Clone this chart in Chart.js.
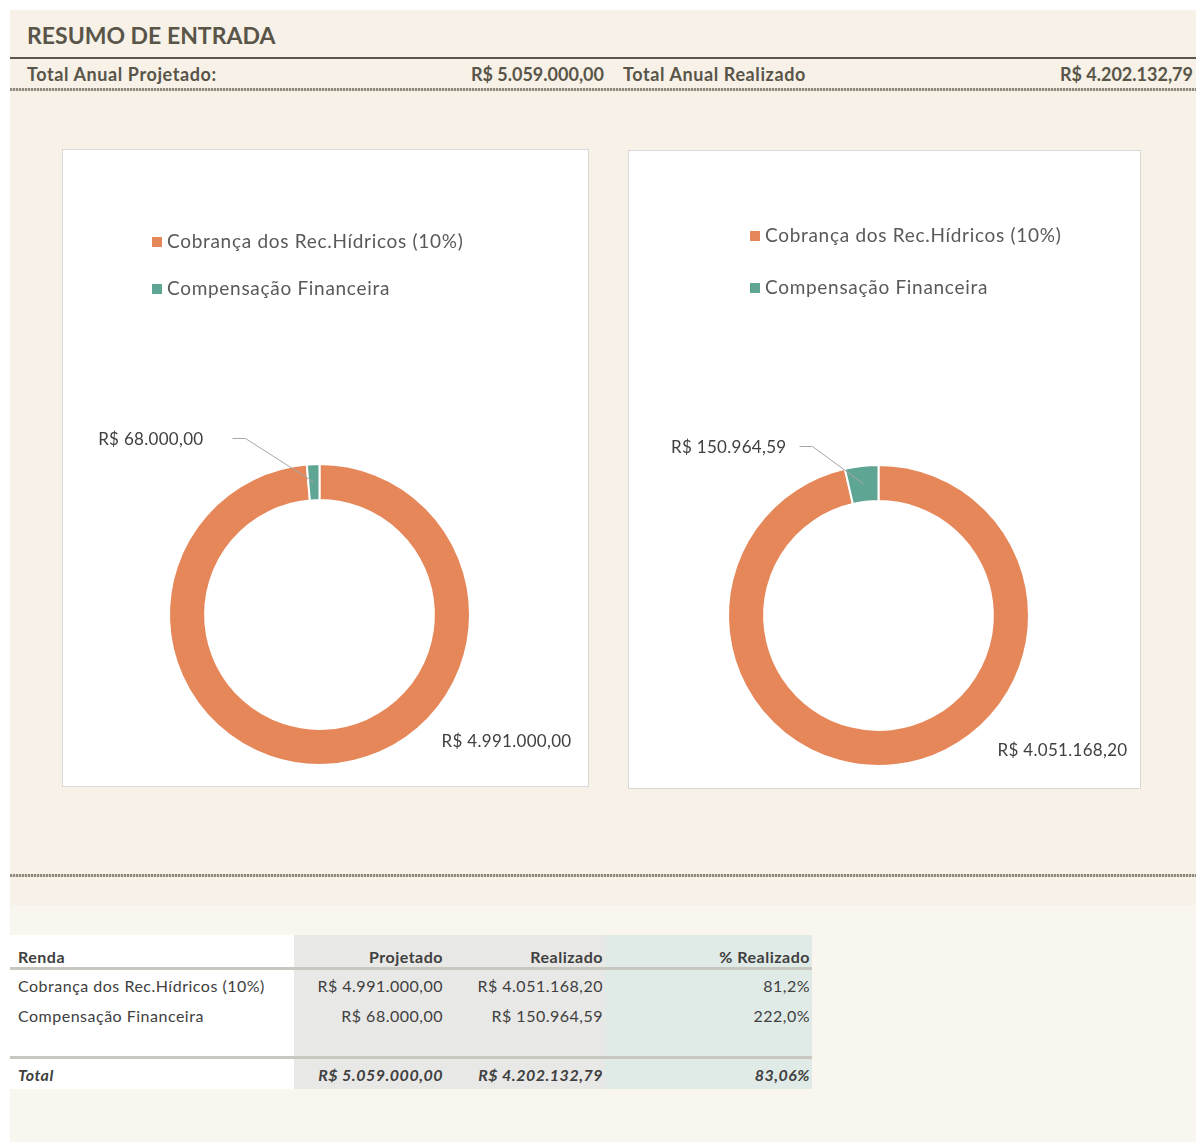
<!DOCTYPE html>
<html lang="pt-BR">
<head>
<meta charset="utf-8">
<title>Resumo de Entrada</title>
<script src="https://cdn.jsdelivr.net/npm/chart.js@4.4.1/dist/chart.umd.min.js"></script>
<style>
    body { margin: 0; background: #fff; font-family: Lato, "Open Sans", sans-serif; color: #595549; }
    #page { position: relative; width: 1196px; height: 1142px; }
    .panel { position: absolute; left: 10px; top: 10px; width: 1186px; height: 895px; background: #f7f1e7; }
    .lower { position: absolute; left: 10px; top: 905px; width: 1186px; height: 237px; background: #f9f6f0; }
    .title { position: absolute; left: 27px; top: 21px; font-size: 23px; font-weight: bold; color: #595549; }
    .rule { position: absolute; left: 10px; width: 1186px; top: 57px; height: 2px; background: #5a574d; }
    .dash { position: absolute; left: 10px; width: 1186px; height: 3px;
        background: repeating-linear-gradient(90deg, #8f8a7e 0 2px, #d8d3c8 2px 3px); }
    .sum { position: absolute; top: 63px; font-size: 18px; font-weight: bold; color: #595549; white-space: nowrap; }
    .lbl { letter-spacing: 0.6px; }
    .box { position: absolute; background: #fff; border: 1px solid #d9d9d9; box-sizing: border-box; }
    table { position: absolute; left: 10px; top: 935px; border-collapse: collapse; font-size: 16px; color: #404040; letter-spacing: 0.5px; }
    td, th { padding: 0 2px 0 8px; white-space: nowrap; }
    th { height: 31px; vertical-align: bottom; font-weight: bold; padding-bottom: 1px; }
    .c0 { width: 274px; text-align: left; background: #fff; }
    .c1 { width: 141px; text-align: right; background: #e8e8e6; }
    .c2 { width: 150px; text-align: right; background: #e8e8e6; }
    .c3 { width: 197px; text-align: right; background: #e0ebe8; }
    tr.head th { border-bottom: 3px solid #c8c8c0; }
    tr.row td { height: 30px; }
    tr.blank td { height: 26px; border-bottom: 3px solid #c8c8c0; }
    tr.total td { height: 30px; font-weight: bold; font-style: italic; }
</style>
</head>
<body>
<div id="page">
    <div class="panel"></div>
    <div class="lower"></div>
    <div class="title">RESUMO DE ENTRADA</div>
    <div class="rule"></div>
    <div class="sum lbl" style="left:27px">Total Anual Projetado:</div>
    <div class="sum" id="totProj" style="right:592px"></div>
    <div class="sum lbl" style="left:623px">Total Anual Realizado</div>
    <div class="sum" id="totReal" style="right:3px"></div>
    <div class="dash" style="top:88px"></div>

    <div class="box" style="left:62px; top:149px; width:527px; height:638px;"><canvas id="chartProj"></canvas></div>
    <div class="box" style="left:628px; top:150px; width:513px; height:639px;"><canvas id="chartReal"></canvas></div>

    <div class="dash" style="top:874px"></div>

    <table>
        <tr class="head"><th class="c0">Renda</th><th class="c1">Projetado</th><th class="c2">Realizado</th><th class="c3">% Realizado</th></tr>
        <tbody id="rows"></tbody>
        <tr class="blank"><td class="c0"></td><td class="c1"></td><td class="c2"></td><td class="c3"></td></tr>
        <tr class="total"><td class="c0">Total</td><td class="c1" id="tp"></td><td class="c2" id="tr"></td><td class="c3" id="tpct"></td></tr>
    </table>
</div>

<script>
// Dados
const categories = ['Cobrança dos Rec.Hídricos (10%)', 'Compensação Financeira'];
const projetado = [4991000.00, 68000.00];
const realizado = [4051168.20, 150964.59];
const percentLabels = ['81,2%', '222,0%'];
const totalPercent = '83,06%';
const sliceColors = ['#e6875a', '#5fa593'];

function brl(v) {
    const parts = v.toFixed(2).split('.');
    const int = parts[0].replace(/\B(?=(\d{3})+(?!\d))/g, '.');
    return 'R$ ' + int + ',' + parts[1];
}

const sum = arr => arr.reduce((a, b) => a + b, 0);

document.getElementById('totProj').textContent = brl(sum(projetado));
document.getElementById('totReal').textContent = brl(sum(realizado));

// tabela
const rows = document.getElementById('rows');
categories.forEach((c, i) => {
    const tr = document.createElement('tr');
    tr.className = 'row';
    tr.innerHTML = '<td class="c0">' + c + '</td><td class="c1">' + brl(projetado[i]) +
        '</td><td class="c2">' + brl(realizado[i]) + '</td><td class="c3">' + percentLabels[i] + '</td>';
    rows.appendChild(tr);
});
document.getElementById('tp').textContent = brl(sum(projetado));
document.getElementById('tr').textContent = brl(sum(realizado));
document.getElementById('tpct').textContent = totalPercent;

// legenda + rótulos desenhados no canvas
const sliceLabels = {
    id: 'sliceLabels',
    afterDraw(chart, args, opts) {
        const ctx = chart.ctx;
        const meta = chart.getDatasetMeta(0);
        const values = chart.data.datasets[0].data;
        ctx.save();

        // legenda
        ctx.font = '19px Lato';
        ctx.letterSpacing = '0.7px';
        ctx.textBaseline = 'middle';
        chart.data.labels.forEach((lab, i) => {
            const y = opts.legendY + i * opts.legendGap;
            ctx.fillStyle = sliceColors[i];
            ctx.fillRect(opts.legendX, y - 5, 10, 10);
            ctx.fillStyle = '#595959';
            ctx.fillText(lab, opts.legendX + 15, y);
        });

        ctx.font = '17px Lato';
        ctx.letterSpacing = '0.3px';
        ctx.fillStyle = '#404040';

        // fatia grande
        const big = meta.data[0].getProps(['x', 'y'], true);
        ctx.textAlign = 'left';
        ctx.fillText(brl(values[0]), big.x + opts.bigDx, big.y + opts.bigDy);

        // fatia pequena com linha guia
        const a = meta.data[1].getProps(['x', 'y', 'startAngle', 'endAngle', 'innerRadius', 'outerRadius'], true);
        const mid = (a.startAngle + a.endAngle) / 2;
        const r = (a.innerRadius + a.outerRadius) / 2;
        const ex = a.x + Math.cos(mid) * r, ey = a.y + Math.sin(mid) * r;
        const kx = a.x + opts.elbowDx, ky = a.y + opts.elbowDy;
        ctx.strokeStyle = '#a6a6a6';
        ctx.lineWidth = 1;
        ctx.beginPath();
        ctx.moveTo(ex, ey);
        ctx.lineTo(kx, ky);
        ctx.lineTo(kx - 13, ky);
        ctx.stroke();
        ctx.textAlign = 'right';
        ctx.fillText(brl(values[1]), kx - 13 - opts.textGap, ky + 1);
        ctx.restore();
    }
};

function makeChart(id, data, padding, labelOpts) {
    return new Chart(document.getElementById(id), {
        type: 'doughnut',
        data: {
            labels: categories,
            datasets: [{
                data: data,
                backgroundColor: sliceColors,
                borderColor: '#ffffff',
                borderWidth: 2
            }]
        },
        options: {
            responsive: true,
            maintainAspectRatio: false,
            animation: false,
            cutout: '76%',
            layout: { padding: padding },
            plugins: {
                legend: { display: false },
                tooltip: { enabled: false },
                sliceLabels: labelOpts
            }
        },
        plugins: [sliceLabels]
    });
}

makeChart('chartProj', projetado,
    { left: 105, right: 117, top: 313, bottom: 20 },
    { legendX: 89, legendY: 92, legendGap: 47, bigDx: 122, bigDy: 127, elbowDx: -74, elbowDy: -176, textGap: 29 });

makeChart('chartReal', realizado,
    { left: 98, right: 110, top: 313, bottom: 21 },
    { legendX: 121, legendY: 85, legendGap: 52, bigDx: 119, bigDy: 135, elbowDx: -66, elbowDy: -169, textGap: 13 });
</script>
</body>
</html>
